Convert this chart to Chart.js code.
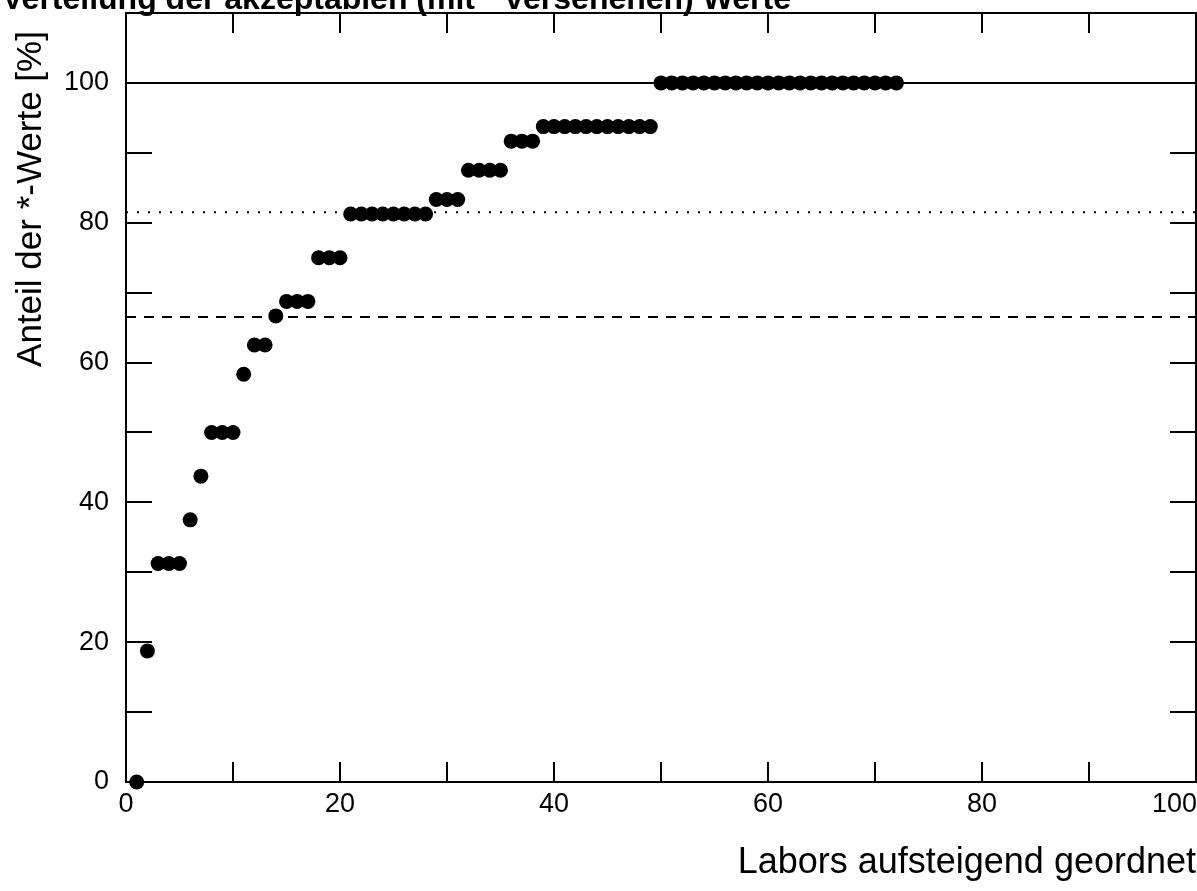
<!DOCTYPE html>
<html lang="de">
<head>
    <meta charset="UTF-8">
    <title>Verteilung der akzeptablen Werte</title>
    <script src="https://cdn.jsdelivr.net/npm/chart.js"></script>
    <style>
        html, body { margin: 0; padding: 0; background: #fff; overflow: hidden; }
        canvas { display: block; }
    </style>
</head>
<body>
    <canvas id="chart" width="1197" height="891"></canvas>

    <script>
        // Labore (x) und Anteil der *-Werte in % (y)
        const labIndex = [1, 2, 3, 4, 5, 6, 7, 8, 9, 10, 11, 12, 13, 14, 15, 16, 17, 18, 19, 20,
            21, 22, 23, 24, 25, 26, 27, 28, 29, 30, 31, 32, 33, 34, 35, 36, 37, 38, 39, 40,
            41, 42, 43, 44, 45, 46, 47, 48, 49, 50, 51, 52, 53, 54, 55, 56, 57, 58, 59, 60,
            61, 62, 63, 64, 65, 66, 67, 68, 69, 70, 71, 72];
        const shareValues = [0, 18.75, 31.25, 31.25, 31.25, 37.5, 43.75, 50, 50, 50,
            58.33, 62.5, 62.5, 66.67, 68.75, 68.75, 68.75, 75, 75, 75,
            81.25, 81.25, 81.25, 81.25, 81.25, 81.25, 81.25, 81.25, 83.33, 83.33,
            83.33, 87.5, 87.5, 87.5, 87.5, 91.67, 91.67, 91.67, 93.75, 93.75,
            93.75, 93.75, 93.75, 93.75, 93.75, 93.75, 93.75, 93.75, 93.75, 100,
            100, 100, 100, 100, 100, 100, 100, 100, 100, 100,
            100, 100, 100, 100, 100, 100, 100, 100, 100, 100, 100, 100];

        // Referenzlinien
        const lineSolid = 100;
        const lineDotted = 81.5;
        const lineDashed = 66.5;

        // Achsen
        const xTicks = [0, 10, 20, 30, 40, 50, 60, 70, 80, 90, 100];
        const xTickLabels = [0, 20, 40, 60, 80, 100];
        const yTicks = [0, 10, 20, 30, 40, 50, 60, 70, 80, 90, 100, 110];
        const yTickLabels = [0, 20, 40, 60, 80, 100];

        const titleText = 'Verteilung der akzeptablen (mit * versehenen) Werte';
        const xTitle = 'Labors aufsteigend geordnet';
        const yTitle = 'Anteil der *-Werte [%]';

        const font = '"Liberation Sans", Arial, sans-serif';

        const points = labIndex.map((x, i) => ({ x: x, y: shareValues[i] }));
        const hline = v => [{ x: 0, y: v }, { x: 100, y: v }];

        // frame, inward ticks, labels and titles
        const axisDeco = {
            id: 'axisDeco',
            afterDraw(chart) {
                const { ctx, chartArea: a, scales: { x, y } } = chart;
                ctx.save();
                ctx.strokeStyle = '#000';
                ctx.fillStyle = '#000';
                ctx.lineWidth = 2;
                ctx.strokeRect(a.left, a.top, a.right - a.left, a.bottom - a.top);

                ctx.beginPath();
                xTicks.forEach(v => {
                    const px = Math.round(x.getPixelForValue(v));
                    ctx.moveTo(px, a.bottom); ctx.lineTo(px, a.bottom - 20);
                    ctx.moveTo(px, a.top); ctx.lineTo(px, a.top + 20);
                });
                yTicks.forEach(v => {
                    const py = Math.round(y.getPixelForValue(v));
                    ctx.moveTo(a.left, py); ctx.lineTo(a.left + 26, py);
                    ctx.moveTo(a.right, py); ctx.lineTo(a.right - 26, py);
                });
                ctx.stroke();

                ctx.font = '27px ' + font;
                ctx.textBaseline = 'middle';
                ctx.textAlign = 'right';
                yTickLabels.forEach(v => {
                    ctx.fillText(String(v), a.left - 17, y.getPixelForValue(v));
                });
                ctx.textBaseline = 'top';
                xTickLabels.forEach(v => {
                    const px = x.getPixelForValue(v);
                    const w = ctx.measureText(String(v)).width;
                    if (px + w / 2 > chart.width) {
                        ctx.textAlign = 'right';
                        ctx.fillText(String(v), chart.width, a.bottom + 9);
                    } else {
                        ctx.textAlign = 'center';
                        ctx.fillText(String(v), px, a.bottom + 9);
                    }
                });

                // axis titles
                ctx.font = '36px ' + font;
                ctx.textAlign = 'right';
                ctx.textBaseline = 'alphabetic';
                ctx.fillText(xTitle, a.right, 873);

                ctx.save();
                ctx.font = '35px ' + font;
                ctx.translate(41, 199);
                ctx.rotate(-Math.PI / 2);
                ctx.textAlign = 'center';
                ctx.fillText(yTitle, 0, 0);
                ctx.restore();

                // title, top cut off
                ctx.font = 'bold 32px ' + font;
                ctx.textAlign = 'left';
                ctx.fillText(titleText, 2, 9);
                ctx.restore();
            }
        };

        new Chart(document.getElementById('chart'), {
            type: 'scatter',
            data: {
                datasets: [
                    {
                        label: 'Labore',
                        data: points,
                        pointRadius: 7.5,
                        pointHoverRadius: 7.5,
                        pointBackgroundColor: '#000',
                        pointBorderWidth: 0,
                        borderColor: '#000',
                        clip: false
                    },
                    {
                        type: 'line',
                        data: hline(lineSolid),
                        borderColor: '#000',
                        borderWidth: 2,
                        pointRadius: 0
                    },
                    {
                        type: 'line',
                        data: hline(lineDotted),
                        borderColor: '#000',
                        borderWidth: 2,
                        borderDash: [2, 9],
                        pointRadius: 0
                    },
                    {
                        type: 'line',
                        data: hline(lineDashed),
                        borderColor: '#000',
                        borderWidth: 2,
                        borderDash: [10, 8],
                        pointRadius: 0
                    }
                ]
            },
            options: {
                responsive: false,
                devicePixelRatio: 1,
                animation: false,
                events: [],
                layout: { padding: { top: 13, right: 1, left: 0, bottom: 0 }, autoPadding: false },
                plugins: {
                    legend: { display: false },
                    tooltip: { enabled: false },
                    title: { display: false }
                },
                scales: {
                    x: {
                        type: 'linear',
                        min: 0,
                        max: 100,
                        grid: { display: false, drawTicks: false },
                        border: { display: false },
                        ticks: { display: false },
                        afterFit: s => { s.height = 109; }
                    },
                    y: {
                        type: 'linear',
                        min: 0,
                        max: 110,
                        grid: { display: false, drawTicks: false },
                        border: { display: false },
                        ticks: { display: false },
                        afterFit: s => { s.width = 126; }
                    }
                }
            },
            plugins: [axisDeco]
        });
    </script>
</body>
</html>
